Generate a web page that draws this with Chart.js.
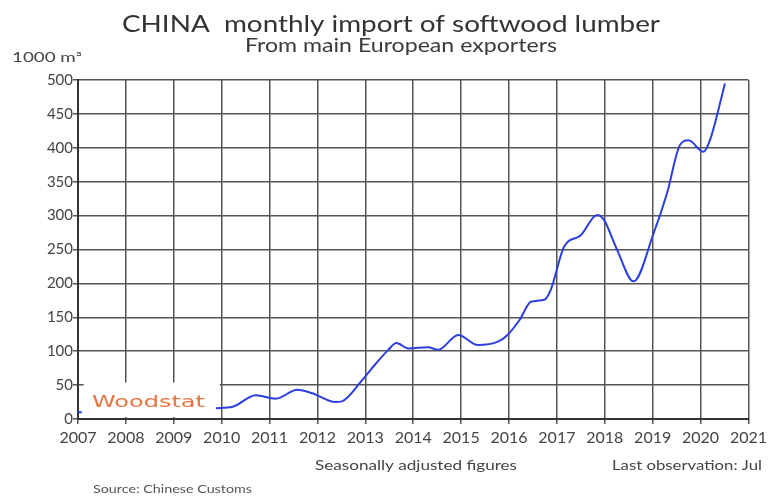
<!DOCTYPE html>
<html>
<head>
<meta charset="utf-8">
<script src="https://cdn.jsdelivr.net/npm/chart.js@4"></script>
<style>
  html, body { margin: 0; padding: 0; background: #fff; }
  #wrap { width: 771px; height: 497px; }
</style>
</head>
<body>
<div id="wrap"><canvas id="myChart" width="771" height="497"></canvas></div>
<script>
// decimal years and values in 1000 m3 (null = gap)
const years = [2007.0, 2007.08, 2008.5, 2009.88, 2010.23, 2010.71, 2011.13, 2011.58, 2011.89,
  2012.37, 2012.51, 2012.93, 2013.2, 2013.48, 2013.65, 2013.9, 2014.31, 2014.52, 2014.94,
  2015.35, 2015.77, 2015.97, 2016.22, 2016.46, 2016.74, 2016.87, 2017.15, 2017.5, 2017.84,
  2017.98, 2018.26, 2018.6, 2019.02, 2019.3, 2019.57, 2019.75, 2020.06, 2020.2, 2020.51];
const imports = [10, 10, null, 16, 18, 35, 30, 43, 38,
  25, 26, 57, 80, 102, 112, 104, 106, 102, 124,
  109, 114, 124, 146, 173, 176, 190, 254, 271, 301,
  294, 249, 203, 274, 333, 404, 411, 394, 412, 495];
const yearTicks = [2007, 2008, 2009, 2010, 2011, 2012, 2013, 2014, 2015, 2016, 2017, 2018, 2019, 2020, 2021];

const textFont = 'Lato, "Open Sans", sans-serif';

const points = years.map((y, i) => ({ x: y, y: imports[i] }));

// draw text from x0 to x1 on a baseline, stretched sideways like the original
function fitText(ctx, text, x0, x1, base, font) {
  ctx.save();
  ctx.font = font;
  ctx.textAlign = 'left';
  ctx.textBaseline = 'alphabetic';
  const w = ctx.measureText(text).width;
  ctx.translate(x0, base);
  ctx.scale((x1 - x0) / w, 1);
  ctx.fillText(text, 0, 0);
  ctx.restore();
}

// white patch with the Woodstat logo, drawn under the line
const logoPlugin = {
  id: 'logo',
  beforeDatasetsDraw(chart) {
    const ctx = chart.ctx;
    const xs = chart.scales.x, ys = chart.scales.y;
    ctx.save();
    ctx.fillStyle = '#fff';
    const x0 = xs.getPixelForValue(2007.12);
    const x1 = xs.getPixelForValue(2009.96);
    const y0 = ys.getPixelForValue(54);
    const y1 = ys.getPixelForValue(3);
    ctx.fillRect(x0, y0, x1 - x0, y1 - y0);
    ctx.fillStyle = '#e8743e';
    fitText(ctx, 'Woodstat', 92, 205, 407, '15px "DejaVu Sans", sans-serif');
    ctx.restore();
  }
};

const textPlugin = {
  id: 'texts',
  afterDraw(chart) {
    const ctx = chart.ctx;
    ctx.save();
    ctx.fillStyle = '#333';
    fitText(ctx, 'CHINA  monthly import of softwood lumber', 122, 660, 32, '24px ' + textFont);
    ctx.fillStyle = '#3a3a3a';
    fitText(ctx, 'From main European exporters', 245, 557, 52, '20px ' + textFont);
    ctx.fillStyle = '#444';
    fitText(ctx, '1000 m\u00b3', 12, 82, 62, '13px ' + textFont);
    fitText(ctx, 'Seasonally adjusted figures', 315, 517, 470, '14px ' + textFont);
    fitText(ctx, 'Last observation: Jul', 612, 762, 470, '14px ' + textFont);
    ctx.fillStyle = '#555';
    fitText(ctx, 'Source: Chinese Customs', 93, 252, 493, '11px ' + textFont);
    ctx.restore();
  }
};

const ctx = document.getElementById('myChart').getContext('2d');
const myChart = new Chart(ctx, {
  type: 'line',
  data: {
    datasets: [{
      data: points,
      borderColor: '#2b3fdc',
      borderWidth: 2,
      pointRadius: 0,
      fill: false,
      spanGaps: false,
      cubicInterpolationMode: 'monotone'
    }]
  },
  options: {
    responsive: false,
    animation: false,
    layout: { padding: { top: 80, right: 19, left: 0, bottom: 0 } },
    plugins: { legend: { display: false }, tooltip: { enabled: false } },
    scales: {
      x: {
        type: 'linear',
        min: 2007,
        max: 2021,
        afterBuildTicks(scale) { scale.ticks = yearTicks.map(v => ({ value: v })); },
        afterFit(scale) { scale.height = 78; },
        ticks: {
          callback: v => String(v),
          color: '#444',
          font: { family: textFont, size: 16 },
          padding: 4,
          maxRotation: 0,
          autoSkip: false
        },
        grid: { color: '#555', lineWidth: 1.5, tickLength: 5 },
        border: { color: '#333', width: 2 }
      },
      y: {
        min: 0,
        max: 500,
        afterFit(scale) { scale.width = 78; },
        ticks: {
          stepSize: 50,
          color: '#444',
          font: { family: textFont, size: 15 },
          padding: 0
        },
        grid: { color: '#555', lineWidth: 1.5, tickLength: 5 },
        border: { color: '#333', width: 2 }
      }
    }
  },
  plugins: [logoPlugin, textPlugin]
});
</script>
</body>
</html>
